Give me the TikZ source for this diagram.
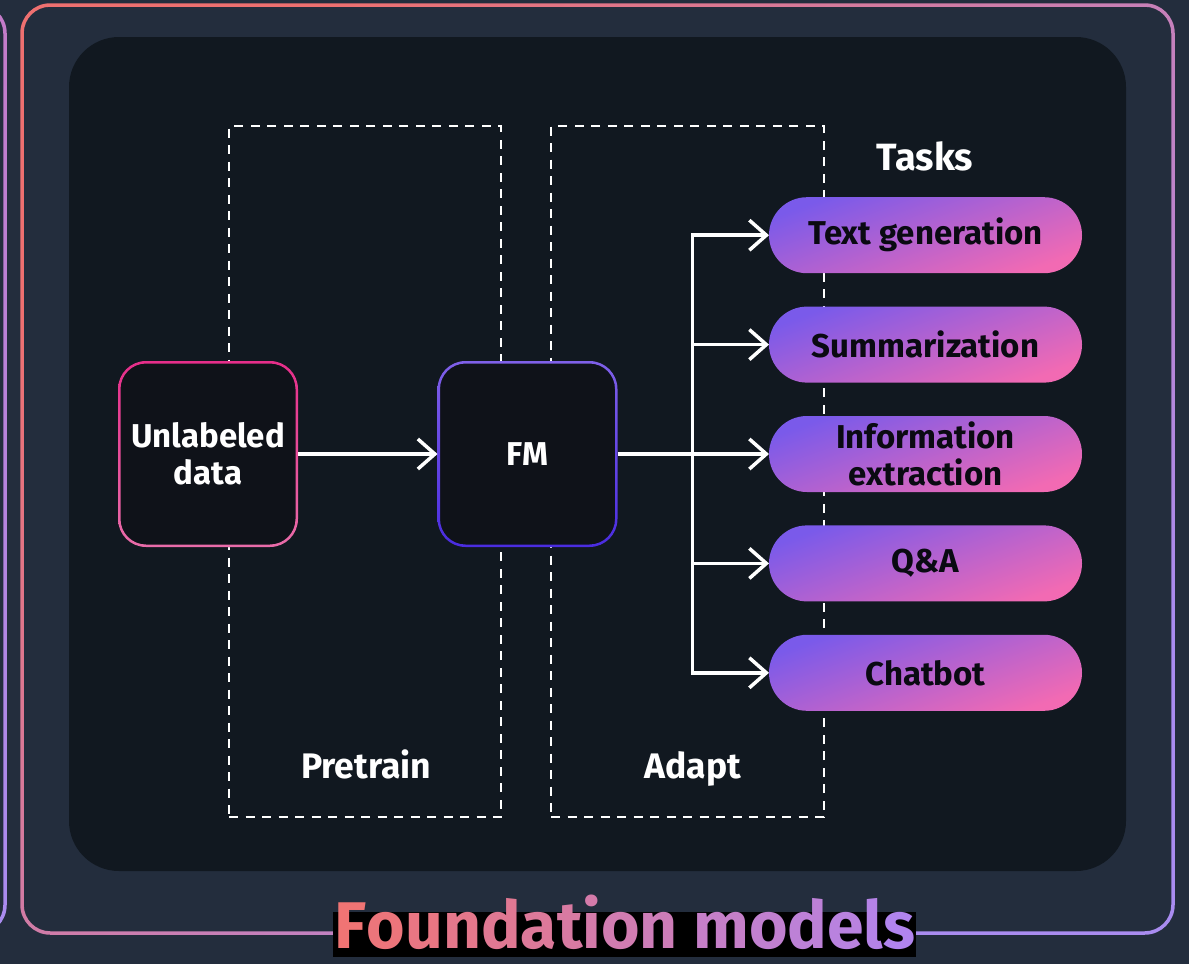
\documentclass[tikz,border=0pt]{standalone}
\usepackage{fontspec}
\setmainfont{Fira Sans}
\newfontfamily\titlefont{Fira Sans}
\usetikzlibrary{arrows.meta}
\definecolor{bgc}{HTML}{232D3D}
\definecolor{panelc}{HTML}{111820}
\definecolor{nodefill}{HTML}{0F1219}
\definecolor{coral}{HTML}{EE7070}
\definecolor{frpurple}{HTML}{A98CF0}
\definecolor{lfTop}{HTML}{C47BC8}
\definecolor{udTop}{HTML}{E62E8A}
\definecolor{udBot}{HTML}{E96CA9}
\definecolor{fmTop}{HTML}{7F60E8}
\definecolor{fmBot}{HTML}{4A2CE0}
\definecolor{pillpurple}{HTML}{7A5AEA}
\definecolor{pillpink}{HTML}{F26AB3}
\definecolor{pilltext}{HTML}{0A0A12}
\definecolor{tc}{HTML}{F07474}
\definecolor{tp}{HTML}{B184EE}
\newcommand{\gradring}[4]{\shade[#4, even odd rule, rounded corners=#2pt] (#1.north west) rectangle (#1.south east) [rounded corners=#2pt-#3pt] ([shift={(#3,#3)}]#1.north west) rectangle ([shift={(-#3,-#3)}]#1.south east);}
\newcommand{\nodefont}{\bfseries\fontsize{33}{37}\selectfont}
\begin{document}
\begin{tikzpicture}[x=1pt,y=-1pt,
  dashbox/.style={draw=white, line width=2pt, dash pattern=on 9pt off 7.5pt, inner sep=0pt, outer sep=0pt},
  box/.style={rectangle, rounded corners=28pt, minimum width=180pt, minimum height=186pt, fill=nodefill, inner sep=0pt, outer sep=0pt, text=white, font=\nodefont, align=center},
  pill/.style={rectangle, rounded corners=38pt, minimum width=313pt, minimum height=76pt, top color=pillpurple, bottom color=pillpink, shading angle=20, inner sep=0pt, outer sep=0pt, text=pilltext, font=\nodefont, align=center},
  lbl/.style={text=white, inner sep=0pt, anchor=base, font=\bfseries\fontsize{35.5}{40}\selectfont},
  link/.style={draw=white, line width=3.5pt},
  arr/.style={link, -{Straight Barb[length=17pt,width=30pt]}}
]
\useasboundingbox (0,0) rectangle (1189,964);
\fill[bgc] (0,0) rectangle (1189,964);
% neighbouring frame at the left edge
\begin{scope}
\clip (0,0) rectangle (1189,964);
\shade[top color=lfTop, bottom color=frpurple, even odd rule, rounded corners=30pt] (-1160,3.25) rectangle (6.75,935) [rounded corners=26.5pt] (-1156.5,6.75) rectangle (3.25,931.5);
\end{scope}
% outer frame
\shade[top color=coral, bottom color=frpurple, shading angle=45, even odd rule, rounded corners=30pt] (20.25,3.25) rectangle (1174.75,934.75) [rounded corners=26.5pt] (23.75,6.75) rectangle (1171.25,931.25);
% inner panel
\fill[panelc, rounded corners=50pt] (69,37) rectangle (1126,871);
% stage boxes
\node[dashbox, minimum width=272pt, minimum height=691pt] (pre) at (365,471.5) {};
\node[dashbox, minimum width=273pt, minimum height=691pt] (ada) at (687.5,471.5) {};
\node[lbl] (prel) at (366,778) {Pretrain};
\node[lbl] (adal) at (693,778) {Adapt};
\node[lbl, font=\bfseries\fontsize{38}{42}\selectfont] (tasks) at (925,170) {Tasks};
% main nodes
\node[box] (ud) at (208,454) {Unlabeled\\data};
\node[box] (fm) at (527.5,454) {FM};
\gradring{ud}{28}{2.5}{top color=udTop, bottom color=udBot}
\gradring{fm}{28}{2.5}{top color=fmTop, bottom color=fmBot}
% tasks
\node[pill] (tg) at (925.5,235.2) {Text generation};
\node[pill] (su) at (925.5,344.6) {Summarization};
\node[pill] (ie) at (925.5,454) {Information\\extraction};
\node[pill] (qa) at (925.5,563.4) {Q\&A};
\node[pill] (cb) at (925.5,672.8) {Chatbot};
% connectors
\draw[arr] (ud.east) -- (fm.west);
\coordinate (hub) at ([xshift=75pt]fm.east);
\draw[link] (fm.east) -- (hub);
\foreach \t in {tg,su,ie,qa,cb} \draw[arr] (hub) |- (\t.west);
% title
\node[fill=black, minimum width=583pt, minimum height=45pt, inner sep=0pt, outer sep=0pt] (tbg) at (624.5,934.5) {};
\node[anchor=base, inner sep=0pt, font=\titlefont\bfseries\fontsize{66}{66}\selectfont] (title) at (625,948) {\textcolor{tp!0!tc}{F}\textcolor{tp!6!tc}{o}\textcolor{tp!12!tc}{u}\textcolor{tp!19!tc}{n}\textcolor{tp!25!tc}{d}\textcolor{tp!31!tc}{a}\textcolor{tp!38!tc}{t}\textcolor{tp!44!tc}{i}\textcolor{tp!50!tc}{o}\textcolor{tp!56!tc}{n} \textcolor{tp!69!tc}{m}\textcolor{tp!75!tc}{o}\textcolor{tp!81!tc}{d}\textcolor{tp!88!tc}{e}\textcolor{tp!94!tc}{l}\textcolor{tp!100!tc}{s}};
\end{tikzpicture}
\end{document}
